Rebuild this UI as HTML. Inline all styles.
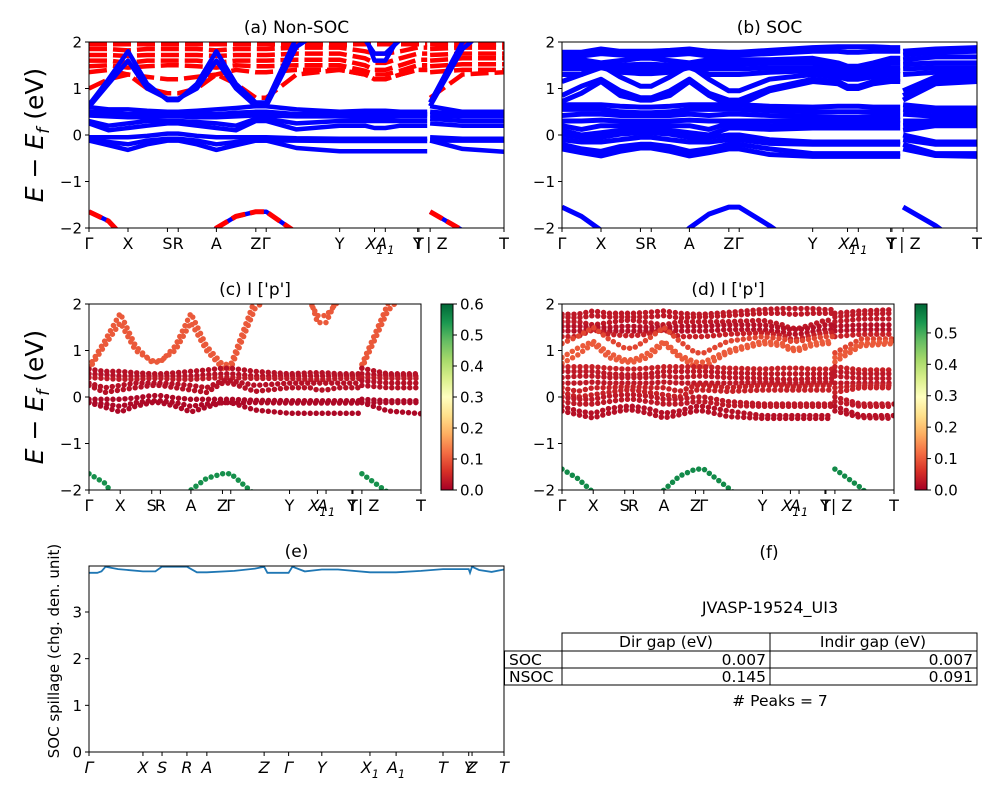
<!DOCTYPE html>
<html><head><meta charset="utf-8"><style>
html,body{margin:0;padding:0;background:#fff}
svg{display:block;font-family:"DejaVu Sans","Liberation Sans",sans-serif}
</style></head><body>
<svg id="fig" width="1000" height="800" viewBox="0 0 1000 800" xmlns="http://www.w3.org/2000/svg">
<defs>
<linearGradient id="rdylgn" x1="0" y1="1" x2="0" y2="0">
<stop offset="0" stop-color="#a50026"/><stop offset="0.1" stop-color="#d73027"/><stop offset="0.2" stop-color="#f46d43"/><stop offset="0.3" stop-color="#fdae61"/><stop offset="0.4" stop-color="#fee08b"/><stop offset="0.5" stop-color="#ffffbf"/><stop offset="0.6" stop-color="#d9ef8b"/><stop offset="0.7" stop-color="#a6d96a"/><stop offset="0.8" stop-color="#66bd63"/><stop offset="0.9" stop-color="#1a9850"/><stop offset="1" stop-color="#006837"/>
</linearGradient>
</defs>
<g id="root"></g>
</svg>
<script>
// ---- k-path (fractional distance) shared by band panels ----
const kPath = [0,.047,.094,.14,.189,.215,.26,.307,.354,.402,.427,.5,.604,.665,.688,.714,.75,.792,.815,.822,.9,1];
const breakAfter = 18;
const kTickK = [0,.094,.189,.215,.307,.402,.427,.604,.688,.714,.792,.795,.822,1];
const kTickLabels = ["Γ","X","S","R","A","Z","Γ","Y","X1","A1","Y","T","|Z","T"];

// ---- Non-SOC bands (eV) ----
const nsocBlue = [
 [0.65,1.2,1.8,1.1,0.75,0.75,1.1,1.8,1.1,0.7,0.7,2.1,2.6,2.15,1.6,1.6,2.15,2.6,2.6,0.7,2.0,2.8],
 [0.6,1.1,1.6,1.0,0.78,0.78,1.0,1.6,1.0,0.62,0.62,1.9,2.5,2.05,1.75,1.75,2.05,2.5,2.5,0.62,1.85,2.6],
 [0.6,0.55,0.55,0.52,0.5,0.5,0.52,0.55,0.58,0.62,0.62,0.55,0.5,0.52,0.52,0.52,0.5,0.5,0.5,0.62,0.5,0.5],
 [0.5,0.48,0.45,0.45,0.45,0.45,0.45,0.45,0.48,0.5,0.5,0.45,0.45,0.45,0.45,0.45,0.45,0.45,0.45,0.5,0.45,0.45],
 [0.42,0.4,0.38,0.38,0.4,0.4,0.38,0.38,0.4,0.42,0.42,0.4,0.4,0.38,0.38,0.38,0.4,0.4,0.4,0.42,0.4,0.4],
 [0.3,0.2,0.25,0.3,0.3,0.3,0.28,0.25,0.2,0.35,0.35,0.25,0.3,0.3,0.3,0.3,0.3,0.3,0.3,0.35,0.3,0.3],
 [0.25,0.1,0.15,0.2,0.25,0.25,0.2,0.15,0.1,0.3,0.3,0.12,0.2,0.2,0.15,0.15,0.2,0.2,0.2,0.25,0.2,0.2],
 [-0.05,-0.05,-0.05,-0.02,0.03,0.03,-0.02,-0.05,-0.05,-0.05,-0.05,-0.07,-0.08,-0.08,-0.08,-0.08,-0.08,-0.08,-0.08,-0.05,-0.08,-0.08],
 [-0.12,-0.15,-0.2,-0.12,-0.08,-0.08,-0.12,-0.2,-0.15,-0.12,-0.12,-0.12,-0.13,-0.13,-0.13,-0.13,-0.13,-0.13,-0.13,-0.12,-0.12,-0.12],
 [-0.12,-0.22,-0.32,-0.2,-0.12,-0.12,-0.2,-0.32,-0.22,-0.12,-0.12,-0.28,-0.35,-0.35,-0.35,-0.35,-0.35,-0.35,-0.35,-0.12,-0.3,-0.36],
 [-1.65,-1.85,-2.3,-2.6,-2.6,-2.6,-2.4,-2.0,-1.75,-1.65,-1.65,-2.1,-2.6,-2.6,-2.6,-2.6,-2.6,-2.6,-2.6,-1.65,-2.05,-2.6]
];
const nsocRed = [
 [1.95,1.95,1.95,1.95,1.95,1.95,1.95,1.95,1.95,1.95,1.95,1.95,1.95,1.95,1.95,1.95,1.95,1.95,1.95,1.95,1.95,1.95],
 [1.85,1.85,1.82,1.85,1.85,1.85,1.85,1.82,1.85,1.85,1.85,1.88,1.88,1.8,1.75,1.75,1.8,1.88,1.88,1.85,1.88,1.88],
 [1.72,1.72,1.7,1.72,1.72,1.72,1.72,1.7,1.72,1.72,1.72,1.75,1.75,1.65,1.55,1.55,1.65,1.75,1.75,1.72,1.75,1.75],
 [1.6,1.6,1.55,1.6,1.6,1.6,1.6,1.55,1.6,1.6,1.6,1.62,1.62,1.5,1.4,1.4,1.5,1.62,1.62,1.6,1.65,1.65],
 [1.48,1.5,1.45,1.48,1.5,1.5,1.48,1.45,1.5,1.48,1.48,1.5,1.5,1.38,1.3,1.3,1.38,1.5,1.5,1.48,1.52,1.52],
 [1.35,1.4,1.3,1.25,1.2,1.2,1.25,1.3,1.4,1.35,1.35,1.4,1.4,1.3,1.2,1.2,1.3,1.4,1.4,1.35,1.4,1.4],
 [1.0,1.2,1.3,1.0,0.9,0.9,1.0,1.3,1.1,0.8,0.8,1.3,1.4,1.3,1.2,1.2,1.3,1.4,1.4,0.8,1.3,1.35],
 [-1.65,-1.85,-2.3,-2.6,-2.6,-2.6,-2.4,-2.0,-1.75,-1.65,-1.65,-2.1,-2.6,-2.6,-2.6,-2.6,-2.6,-2.6,-2.6,-1.65,-2.05,-2.6]
];
const nsocWeights = [0.1,0.1,0.02,0.02,0.03,0.02,0.02,0.01,0.01,0.01,0.55];

// ---- SOC bands (eV) ----
const socBands = [
 [1.78,1.78,1.85,1.8,1.8,1.8,1.82,1.85,1.8,1.78,1.78,1.82,1.88,1.9,1.9,1.9,1.9,1.88,1.88,1.8,1.85,1.88],
 [1.72,1.7,1.75,1.72,1.72,1.72,1.72,1.75,1.7,1.72,1.72,1.75,1.8,1.8,1.78,1.78,1.8,1.8,1.8,1.72,1.78,1.8],
 [1.62,1.62,1.55,1.6,1.65,1.65,1.6,1.55,1.62,1.62,1.62,1.62,1.65,1.55,1.48,1.48,1.55,1.65,1.65,1.62,1.68,1.68],
 [1.52,1.52,1.5,1.5,1.52,1.52,1.5,1.5,1.52,1.52,1.52,1.55,1.55,1.48,1.45,1.45,1.48,1.55,1.55,1.52,1.55,1.55],
 [1.42,1.42,1.45,1.42,1.42,1.42,1.42,1.45,1.42,1.42,1.42,1.45,1.45,1.4,1.35,1.35,1.4,1.45,1.45,1.42,1.45,1.45],
 [1.3,1.3,1.45,1.35,1.32,1.32,1.35,1.45,1.3,1.3,1.3,1.35,1.38,1.32,1.25,1.25,1.32,1.38,1.38,1.3,1.35,1.35],
 [1.15,1.3,1.5,1.25,1.05,1.05,1.25,1.5,1.2,0.95,0.95,1.2,1.3,1.25,1.2,1.2,1.25,1.3,1.3,0.95,1.25,1.25],
 [0.85,1.05,1.2,0.95,0.8,0.8,0.95,1.2,0.9,0.75,0.75,1.0,1.2,1.15,1.05,1.05,1.15,1.2,1.2,0.85,1.15,1.2],
 [0.72,0.9,1.15,0.85,0.75,0.75,0.85,1.15,0.85,0.65,0.65,0.95,1.15,1.1,1.0,1.0,1.1,1.15,1.15,0.75,1.1,1.15],
 [0.65,0.65,0.65,0.62,0.6,0.6,0.62,0.65,0.65,0.65,0.65,0.62,0.6,0.62,0.62,0.62,0.6,0.6,0.6,0.65,0.58,0.58],
 [0.55,0.55,0.55,0.5,0.48,0.48,0.5,0.55,0.55,0.55,0.55,0.52,0.5,0.5,0.5,0.5,0.5,0.5,0.5,0.55,0.5,0.5],
 [0.42,0.45,0.45,0.42,0.42,0.42,0.42,0.45,0.42,0.45,0.45,0.42,0.4,0.38,0.38,0.38,0.4,0.4,0.4,0.45,0.4,0.4],
 [0.3,0.3,0.32,0.3,0.3,0.3,0.3,0.32,0.3,0.3,0.3,0.3,0.32,0.3,0.3,0.3,0.32,0.32,0.32,0.3,0.3,0.3],
 [0.2,0.12,0.2,0.2,0.22,0.22,0.2,0.2,0.12,0.25,0.25,0.2,0.25,0.25,0.22,0.22,0.25,0.25,0.25,0.2,0.25,0.25],
 [0.1,0.0,0.05,0.1,0.15,0.15,0.1,0.05,0.0,0.15,0.15,0.12,0.15,0.15,0.15,0.15,0.15,0.15,0.15,0.1,0.2,0.2],
 [0.0,-0.05,-0.05,0.02,0.05,0.05,0.02,-0.05,-0.05,0.0,0.0,-0.1,-0.15,-0.15,-0.15,-0.15,-0.15,-0.15,-0.15,0.0,-0.15,-0.15],
 [-0.1,-0.15,-0.15,-0.1,-0.05,-0.05,-0.1,-0.15,-0.15,-0.1,-0.1,-0.18,-0.2,-0.2,-0.2,-0.2,-0.2,-0.2,-0.2,-0.1,-0.2,-0.2],
 [-0.2,-0.3,-0.35,-0.25,-0.2,-0.2,-0.25,-0.35,-0.3,-0.2,-0.2,-0.3,-0.4,-0.4,-0.4,-0.4,-0.4,-0.4,-0.4,-0.2,-0.4,-0.4],
 [-0.3,-0.38,-0.45,-0.35,-0.28,-0.28,-0.35,-0.45,-0.38,-0.3,-0.3,-0.42,-0.46,-0.46,-0.46,-0.46,-0.46,-0.46,-0.46,-0.3,-0.44,-0.46],
 [-1.55,-1.75,-2.05,-2.5,-2.6,-2.6,-2.4,-2.0,-1.7,-1.55,-1.55,-1.95,-2.6,-2.6,-2.6,-2.6,-2.6,-2.6,-2.6,-1.55,-1.95,-2.6]
];
const socWeights = [0.03,0.03,0.03,0.02,0.02,0.04,0.08,0.1,0.1,0.04,0.03,0.03,0.03,0.04,0.04,0.03,0.03,0.02,0.02,0.55];

// ---- spillage (panel e) ----
const spillK = [0,.02,.03,.04,.07,.13,.16,.176,.236,.26,.284,.35,.40,.422,.43,.47,.481,.49,.52,.561,.6,.677,.74,.8,.853,.915,.918,.923,.94,.97,1];
const spillV = [3.84,3.84,3.87,3.97,3.92,3.87,3.87,3.97,3.97,3.85,3.85,3.88,3.93,3.97,3.84,3.84,3.84,3.97,3.87,3.91,3.91,3.85,3.85,3.88,3.92,3.92,3.84,3.97,3.9,3.86,3.91];
const spillTickK = [0,.130,.176,.236,.284,.422,.481,.561,.677,.740,.853,.915,.923,1];
const spillTickLabels = ["Γ","X","S","R","A","Z","Γ","Y","X1","A1","T","Y","Z","T"];

const root = document.getElementById('root');
const NS = 'http://www.w3.org/2000/svg';
function el(tag, attrs, parent){const e=document.createElementNS(NS,tag);for(const k in attrs)e.setAttribute(k,attrs[k]);(parent||root).appendChild(e);return e;}
function txt(s, attrs, parent){const e=el('text',attrs,parent);e.textContent=s;return e;}
function labelSub(s, x, y, size, parent, italic){
  const t=el('text',{x:x,y:y,'font-size':size,'text-anchor':'middle','font-style':italic?'italic':'normal'},parent);
  if(s.length===2 && s[1]==='1'){ t.appendChild(document.createTextNode(s[0]));
    const ts=document.createElementNS(NS,'tspan');ts.setAttribute('font-size',size*0.7);ts.setAttribute('dy',size*0.3);ts.textContent='1';t.appendChild(ts);
  } else t.textContent=s;
  return t;
}
const cmap=[[0,[165,0,38]],[0.1,[215,48,39]],[0.2,[244,109,67]],[0.3,[253,174,97]],[0.4,[254,224,139]],[0.5,[255,255,191]],[0.6,[217,239,139]],[0.7,[166,217,106]],[0.8,[102,189,99]],[0.9,[26,152,80]],[1,[0,104,55]]];
function cm(t){t=Math.max(0,Math.min(1,t));for(let i=1;i<cmap.length;i++){if(t<=cmap[i][0]){const a=cmap[i-1],b=cmap[i];const f=(t-a[0])/(b[0]-a[0]);const c=a[1].map((v,j)=>Math.round(v+(b[1][j]-v)*f));return `rgb(${c})`;}}return 'rgb(0,104,55)';}

function bandPanel(name, x0, y0, w, h, title, clipId){
  const g=el('g',{});
  
  
  const cp=el('clipPath',{id:clipId},g); el('rect',{x:x0,y:y0,width:w,height:h},cp);
  const xs=k=>x0+k*w, ys=e=>y0+(2-e)/4*h;
  const t=txt(title,{x:x0+w/2,y:y0-9,'font-size':17,'text-anchor':'middle'},g);
   
  return {g,xs,ys,x0,y0,w,h,clipId};
}
function bandPath(P, band){
  const segs=[[0,breakAfter],[breakAfter+1,kPath.length-1]];
  return segs.map(([a,b])=>{let d='';for(let i=a;i<=b;i++)d+=(i===a?'M':'L')+P.xs(kPath[i]).toFixed(1)+','+P.ys(band[i]).toFixed(1);return d;}).join('');
}
function axes(P){
  const g=P.g;
  const f=el('rect',{x:P.x0,y:P.y0,width:P.w,height:P.h,fill:'none',stroke:'#000','stroke-width':1},g);
   
  [2,1,0,-1,-2].forEach(v=>{const y=P.ys(v);el('line',{x1:P.x0-4,x2:P.x0,y1:y,y2:y,stroke:'#000'},g);
    const l=txt(v<0?'−'+(-v):String(v),{x:P.x0-7,y:y+5.5,'font-size':15,'text-anchor':'end'},g);
     });
  kTickK.forEach((k,j)=>{const x=P.xs(k);el('line',{x1:x,x2:x,y1:P.y0+P.h,y2:P.y0+P.h+4,stroke:'#000'},g);
    const s=kTickLabels[j];let l;
    if(s==='|Z'){l=txt('| Z',{x:x-4,y:P.y0+P.h+21,'font-size':16},g);}
    else l=labelSub(s,x,P.y0+P.h+21,16,g,s.length===2);
     });
}

// Panel a
const A=bandPanel('panel-a-non-soc',89,42,415,186,'(a) Non-SOC','clipA');
const ga=el('g',{'clip-path':'url(#clipA)'},A.g);
nsocRed.slice(0,7).forEach(b=>{const p=el('path',{d:bandPath(A,b),fill:'none',stroke:'#ff0000','stroke-width':4.5,'stroke-dasharray':'18 6'},ga);
   });
nsocBlue.forEach(b=>{const p=el('path',{d:bandPath(A,b),fill:'none',stroke:'#0000ff','stroke-width':4.5,'stroke-linejoin':'round'},ga);
   });
{const p=el('path',{d:bandPath(A,nsocRed[7]),fill:'none',stroke:'#ff0000','stroke-width':5,'stroke-dasharray':'14 5'},ga);
  }
axes(A);

// Panel b
const B=bandPanel('panel-b-soc',562,42,415,186,'(b) SOC','clipB');
const gb=el('g',{'clip-path':'url(#clipB)'},B.g);
socBands.forEach(b=>{const p=el('path',{d:bandPath(B,b),fill:'none',stroke:'#0000ff','stroke-width':5,'stroke-linejoin':'round'},gb);
   });
axes(B);

// Panel c
const C=bandPanel('panel-c-projection-nsoc',89,304,332,186,'(c)  I [\'p\']','clipC');
const gc=el('g',{'clip-path':'url(#clipC)'},C.g);
nsocBlue.forEach((b,i)=>{const p=el('path',{d:bandPath(C,b),fill:'none',stroke:cm(nsocWeights[i]/0.6),'stroke-width':5.5,'stroke-linecap':'round','stroke-dasharray':'0 6'},gc);
   });
axes(C);

// Panel d
const D=bandPanel('panel-d-projection-soc',562,304,332,186,'(d) I [\'p\']','clipD');
const gd=el('g',{'clip-path':'url(#clipD)'},D.g);
socBands.forEach((b,i)=>{const p=el('path',{d:bandPath(D,b),fill:'none',stroke:cm(socWeights[i]/0.592),'stroke-width':5.5,'stroke-linecap':'round','stroke-dasharray':'0 6'},gd);
   });
axes(D);

// Colorbars
function colorbar(name,x,y0,h,vmax,ticks){
  const g=el('g',{});
   
  el('rect',{x:x,y:y0,width:12,height:h,fill:'url(#rdylgn)',stroke:'#000','stroke-width':1},g);
  ticks.forEach(v=>{const y=y0+h-v/vmax*h;el('line',{x1:x+12,x2:x+16,y1:y,y2:y,stroke:'#000'},g);
    const l=txt(v.toFixed(1),{x:x+19,y:y+5.5,'font-size':15},g);
     });
}
colorbar('colorbar-c',441,304,186,0.6,[0,0.1,0.2,0.3,0.4,0.5,0.6]);
colorbar('colorbar-d',915,304,186,0.592,[0,0.1,0.2,0.3,0.4,0.5]);

// Y axis labels
[[135],[397]].forEach(([cy])=>{const t=el('text',{x:0,y:0,'font-size':25,'text-anchor':'middle',transform:`translate(43,${cy}) rotate(-90)`});
   
  t.innerHTML='<tspan font-style="italic">E</tspan> − <tspan font-style="italic">E</tspan><tspan font-style="italic" font-size="17" dy="6">f</tspan><tspan dy="-6"> (eV)</tspan>';});

// Panel e
(function(){
  const g=el('g',{});  
  const x0=89,y0=566,w=415,h=186,ymax=3.986;
  const xs=k=>x0+k*w, ys=v=>y0+h-v/ymax*h;
  txt('(e)',{x:x0+w/2,y:y0-9,'font-size':17,'text-anchor':'middle'},g);
  let d='';spillK.forEach((k,i)=>{d+=(i?'L':'M')+xs(k).toFixed(1)+','+ys(spillV[i]).toFixed(1);});
  const p=el('path',{d:d,fill:'none',stroke:'#1f77b4','stroke-width':1.8},g);
   
  el('rect',{x:x0,y:y0,width:w,height:h,fill:'none',stroke:'#000'},g);
  [0,1,2,3].forEach(v=>{const y=ys(v);el('line',{x1:x0-4,x2:x0,y1:y,y2:y,stroke:'#000'},g);
    const l=txt(String(v),{x:x0-7,y:y+5.5,'font-size':15,'text-anchor':'end'},g);
     });
  spillTickK.forEach((k,j)=>{const x=xs(k);el('line',{x1:x,x2:x,y1:y0+h,y2:y0+h+4,stroke:'#000'},g);
    const l=labelSub(spillTickLabels[j],x,y0+h+21,16,g,true);
     });
  const yt=txt('SOC spillage (chg. den. unit)',{x:0,y:0,'font-size':15,'text-anchor':'middle',transform:`translate(59,${y0+h/2-8}) rotate(-90)`},g);
   
})();
</script>
<svg width="1000" height="800" style="position:absolute;left:0;top:0">
<text x="769" y="558" font-size="17" text-anchor="middle" font-family="DejaVu Sans, sans-serif">(f)</text>
<text x="770" y="613" font-size="16" text-anchor="middle" font-family="DejaVu Sans, sans-serif">JVASP-19524_UI3</text>
<g stroke="#000" stroke-width="1" fill="none">
<rect x="562" y="633" width="415" height="18"/><line x1="770" y1="633" x2="770" y2="685"/>
<rect x="504.5" y="651" width="472.5" height="17"/><rect x="504.5" y="668" width="472.5" height="17"/>
<line x1="562" y1="651" x2="562" y2="685"/>
</g>
<g font-family="DejaVu Sans, sans-serif" font-size="15.5" fill="#000">
<text x="666" y="647" text-anchor="middle">Dir gap (eV)</text>
<text x="873" y="647" text-anchor="middle">Indir gap (eV)</text>
<text x="509" y="665">SOC</text>
<text x="509" y="682">NSOC</text>
<text x="766" y="665" text-anchor="end">0.007</text>
<text x="973" y="665" text-anchor="end">0.007</text>
<text x="766" y="682" text-anchor="end">0.145</text>
<text x="973" y="682" text-anchor="end">0.091</text>
<text x="780" y="706" text-anchor="middle"># Peaks = 7</text>
</g>
</svg>
</body></html>
